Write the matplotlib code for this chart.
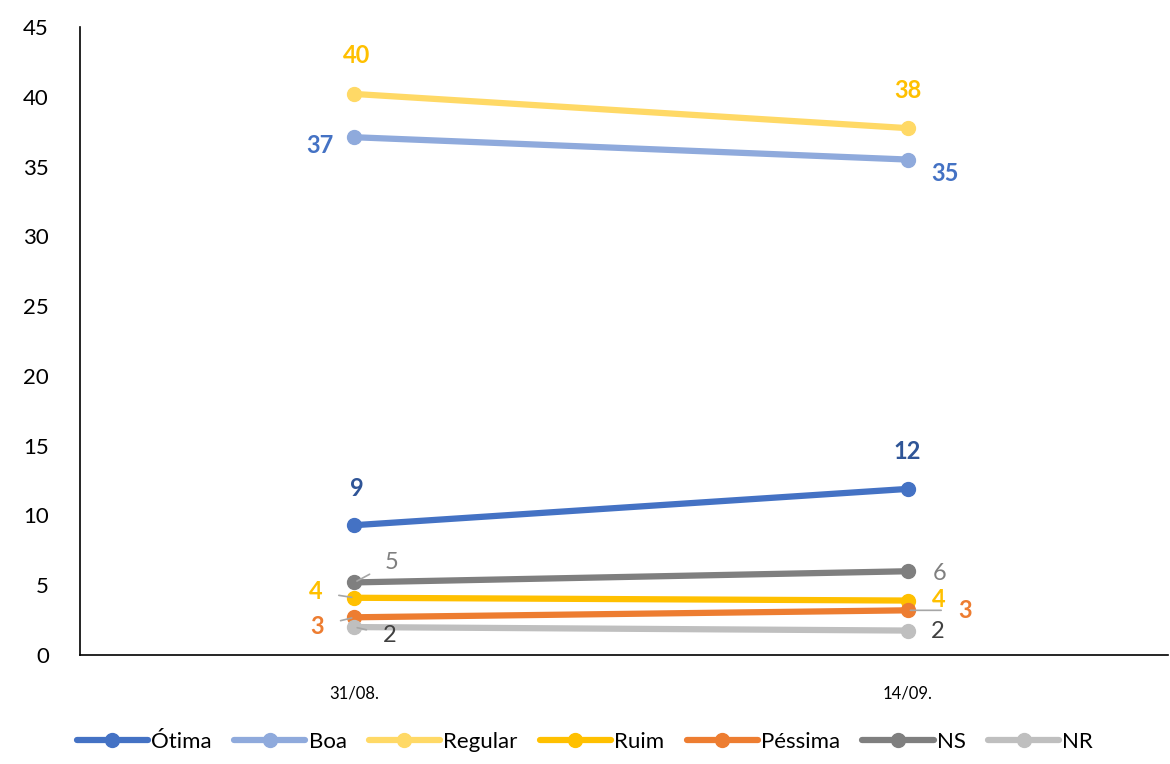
import matplotlib
matplotlib.use('Agg')
import matplotlib.pyplot as plt

plt.rcParams['font.family'] = ['Lato', 'DejaVu Sans']

# dados
datas = ['31/08.', '14/09.']
series = ['Ótima', 'Boa', 'Regular', 'Ruim', 'Péssima', 'NS', 'NR']
otima = [9.3, 11.9]
boa = [37.1, 35.5]
regular = [40.2, 37.75]
ruim = [4.1, 3.9]
pessima = [2.7, 3.2]
ns = [5.2, 6.0]
nr = [2.0, 1.75]
rotulos = {
    'Ótima': ['9', '12'],
    'Boa': ['37', '35'],
    'Regular': ['40', '38'],
    'Ruim': ['4', '4'],
    'Péssima': ['3', '3'],
    'NS': ['5', '6'],
    'NR': ['2', '2'],
}
valores = [otima, boa, regular, ruim, pessima, ns, nr]

cores = ['#4472C4', '#8FAADC', '#FFD966', '#FFC000', '#ED7D31', '#7F7F7F', '#BFBFBF']
cores_rot = ['#2F5597', '#4472C4', '#FFC000', '#FFC000', '#ED7D31', '#7F7F7F', '#404040']
negrito = [True, True, True, True, True, False, False]
# deslocamento dos rotulos em pixels (esquerda, direita) e se tem linha guia
offsets = {
    'Ótima': [((2, 37), False), ((0, 37), False)],
    'Boa': [((-35, -8), False), ((37, -14), False)],
    'Regular': [((2, 38), False), ((0, 38), False)],
    'Ruim': [((-39, 6), True), ((31, 1), False)],
    'Péssima': [((-37, -9), True), ((57, 0), True)],
    'NS': [((37, 20), True), ((32, -2), False)],
    'NR': [((35, -8), True), ((30, -1), False)],
}

fig = plt.figure(figsize=(11.7, 7.64), dpi=100)
ax = fig.add_axes([0.068, 0.1427, 0.93, 0.822])

x = [0, 1]
for i, nome in enumerate(series):
    ax.plot(x, valores[i], color=cores[i], lw=4.5, marker='o', markersize=10,
            label=nome, solid_capstyle='round')
    for j in range(2):
        (dx, dy), guia = offsets[nome][j]
        arrow = None
        if guia:
            arrow = dict(arrowstyle='-', color='#A6A6A6', lw=1.2,
                         shrinkA=10, shrinkB=2)
        ax.annotate(rotulos[nome][j], (x[j], valores[i][j]),
                    xytext=(dx, dy), textcoords='offset pixels',
                    ha='center', va='center', fontsize=17,
                    fontweight='bold' if negrito[i] else 'normal',
                    color=cores_rot[i], arrowprops=arrow)

ax.set_xlim(-0.497, 1.47)
ax.set_ylim(0, 45)
ax.set_yticks(range(0, 46, 5))
ax.set_xticks(x)
ax.set_xticklabels(datas, fontsize=12)
ax.tick_params(axis='y', labelsize=16, length=0, pad=22)
ax.tick_params(axis='x', length=0, pad=22)
ax.spines['top'].set_visible(False)
ax.spines['right'].set_visible(False)
ax.spines['left'].set_color('black')
ax.spines['bottom'].set_color('black')
ax.spines['left'].set_linewidth(1.2)
ax.spines['bottom'].set_linewidth(1.2)

fig.legend(loc='lower center', ncol=7, frameon=False, fontsize=16,
           bbox_to_anchor=(0.5, -0.01), handlelength=3.2, handletextpad=0.15,
           columnspacing=1.0)

fig.savefig('out.png', dpi=100)
